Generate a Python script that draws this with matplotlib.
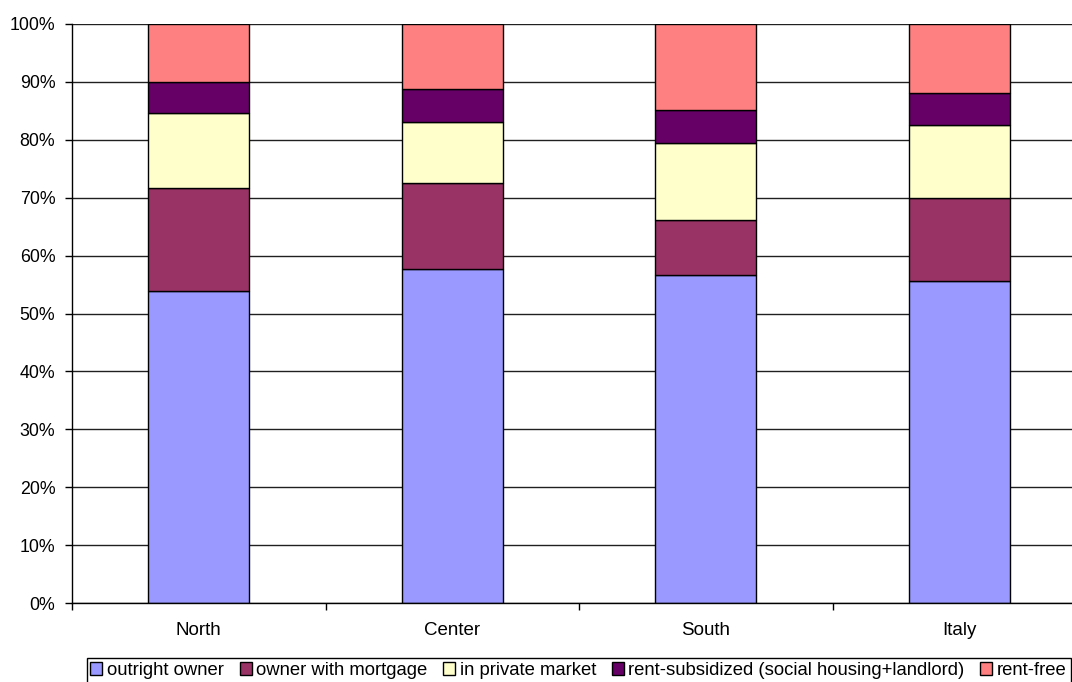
import matplotlib
matplotlib.use("Agg")
import matplotlib.pyplot as plt
import numpy as np
from matplotlib.ticker import FixedLocator, PercentFormatter

regions = ["North", "Center", "South", "Italy"]
series_names = ["outright owner", "owner with mortgage", "in private market",
                "rent-subsidized (social housing+landlord)", "rent-free"]
outright_owner = [53.9, 57.6, 56.7, 55.6]
owner_with_mortgage = [17.7, 14.9, 9.4, 14.3]
in_private_market = [13.1, 10.5, 13.3, 12.6]
rent_subsidized = [5.3, 5.8, 5.7, 5.5]
rent_free = [10.0, 11.2, 14.9, 12.0]
colors = ["#9999FF", "#993366", "#FFFFCC", "#660066", "#FF8080"]

plt.rcParams['font.family'] = ['Liberation Sans', 'DejaVu Sans']

fig = plt.figure(figsize=(10.72, 6.82), dpi=100)
W, H = 1072, 682
ax = fig.add_axes([72 / W, (H - 603) / H, (1086 - 72) / W, (603 - 24) / H])

x = np.arange(len(regions))
data = [outright_owner, owner_with_mortgage, in_private_market, rent_subsidized, rent_free]
bottom = np.zeros(len(regions))
handles = []
for vals, name, c in zip(data, series_names, colors):
    b = ax.bar(x, vals, width=0.4, bottom=bottom, color=c, edgecolor='black',
               linewidth=1.0, label=name, zorder=3)
    handles.append(b)
    bottom += np.array(vals)

ax.set_xlim(-0.5, len(regions) - 0.5)
ax.set_ylim(0, 100)
ax.yaxis.set_major_locator(FixedLocator(np.arange(0, 101, 10)))
ax.yaxis.set_major_formatter(PercentFormatter(decimals=0))
ax.grid(axis='y', color='#202020', linewidth=1.0, zorder=0)
ax.set_axisbelow(True)

ax.set_xticks(x)
ax.set_xticklabels(regions)
ax.set_xticks(np.arange(-0.5, len(regions), 1.0), minor=True)
ax.tick_params(axis='x', which='major', length=0, pad=14, labelsize=13.5)
ax.tick_params(axis='x', which='minor', length=5, width=1, direction='out', color='black')
ax.tick_params(axis='y', length=5, width=1, pad=7, labelsize=12.8, direction='out')

for s in ['top', 'right']:
    ax.spines[s].set_visible(False)
ax.spines['left'].set_linewidth(1.0)
ax.spines['bottom'].set_linewidth(1.0)
ax.spines['left'].set_zorder(4)
ax.spines['bottom'].set_zorder(4)

leg = fig.legend(handles=handles, labels=series_names, loc='upper left',
                 bbox_to_anchor=(86.7 / W, (H - 658.3) / H), ncol=5,
                 frameon=True, fancybox=False, shadow=False, edgecolor='black',
                 fontsize=13.3, handlelength=0.65, handleheight=0.65,
                 handletextpad=0.25, columnspacing=0.85, borderpad=0.2,
                 borderaxespad=0, framealpha=1)
leg.get_frame().set_linewidth(1.0)

fig.savefig("out.png", dpi=100)
